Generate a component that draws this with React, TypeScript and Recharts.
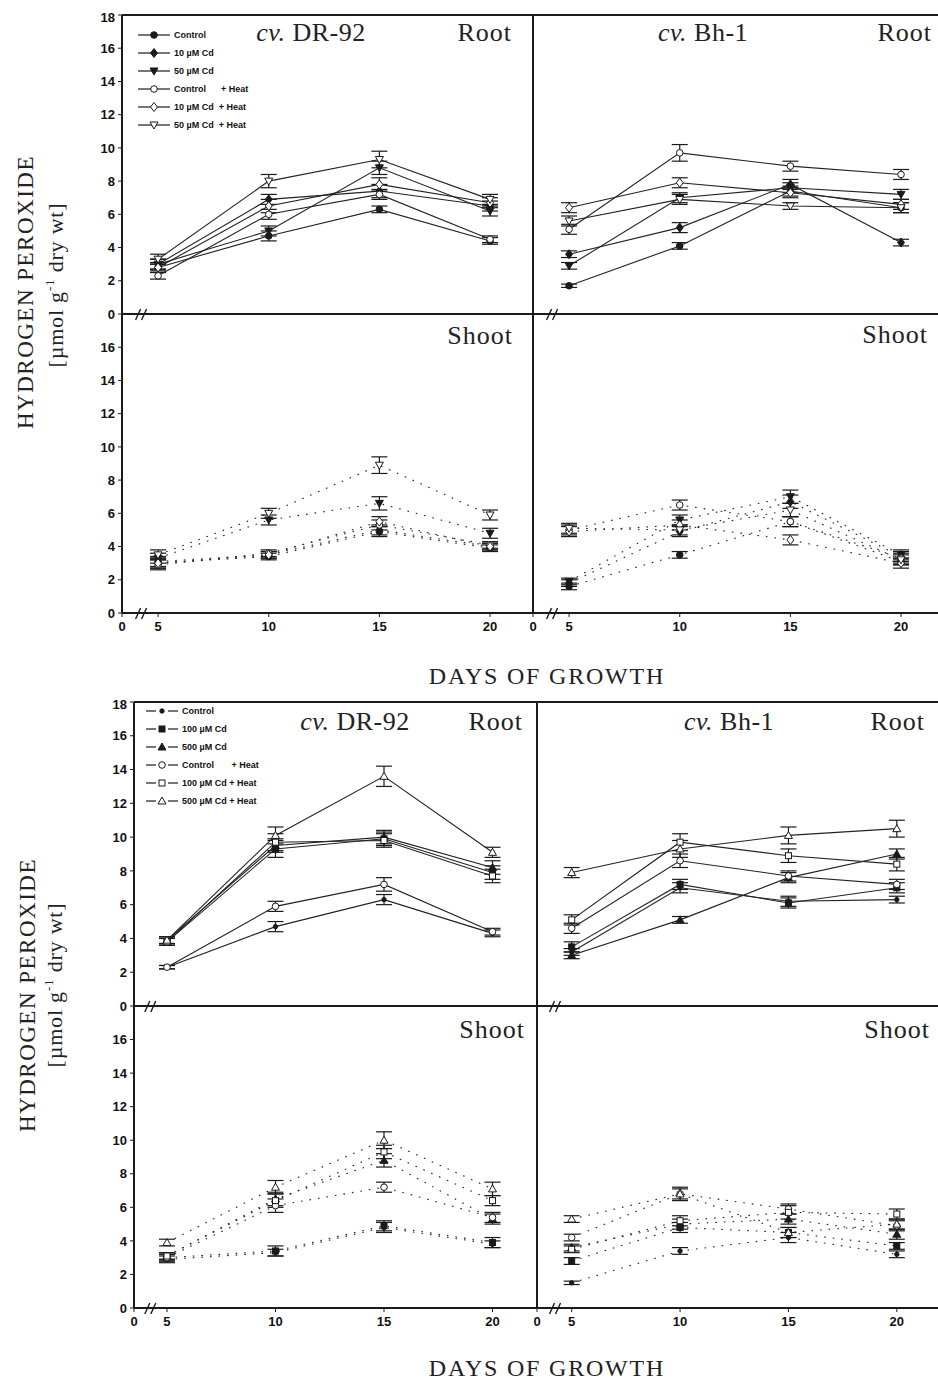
import React from 'react';
import {
  LineChart,
  Line,
  XAxis,
  YAxis,
  ErrorBar,
  ReferenceLine,
  ReferenceDot,
  Legend,
} from 'recharts';

// ---- data ----
const days = [5, 10, 15, 20];
const rootTicks = [0, 2, 4, 6, 8, 10, 12, 14, 16, 18];
const shootTicks = [0, 2, 4, 6, 8, 10, 12, 14, 16];

const topNames = ['Control', '10 µM Cd', '50 µM Cd', 'Control      + Heat', '10 µM Cd  + Heat', '50 µM Cd  + Heat'];
const bottomNames = ['Control', '100 µM Cd', '500 µM Cd', 'Control       + Heat', '100 µM Cd + Heat', '500 µM Cd + Heat'];

const topShapes = ['circle', 'diamond', 'triDown', 'circle', 'diamond', 'triDown'];
const bottomShapes = ['dotSmall', 'square', 'triUp', 'circle', 'square', 'triUp'];
const filled = [true, true, true, false, false, false];

// experiment 1 (10 / 50 µM Cd)
const dr1Root = [
  [2.8, 4.7, 6.3, 4.4],
  [3.0, 6.9, 7.4, 6.5],
  [3.0, 5.0, 8.8, 6.2],
  [2.3, 6.0, 7.2, 4.5],
  [2.8, 6.5, 7.8, 6.7],
  [3.3, 8.0, 9.3, 6.9],
];
const dr1RootErr = [
  [0.2, 0.3, 0.2, 0.2],
  [0.3, 0.3, 0.4, 0.3],
  [0.3, 0.3, 0.4, 0.3],
  [0.2, 0.3, 0.3, 0.2],
  [0.3, 0.4, 0.4, 0.3],
  [0.3, 0.4, 0.5, 0.3],
];
const bh1Root = [
  [1.7, 4.1, 7.4, 6.4],
  [3.6, 5.2, 7.8, 4.3],
  [2.9, 7.0, 7.6, 7.2],
  [5.1, 9.7, 8.9, 8.4],
  [6.4, 7.9, 7.3, 6.6],
  [5.6, 6.9, 6.5, 6.4],
];
const bh1RootErr = [
  [0.1, 0.2, 0.3, 0.3],
  [0.2, 0.3, 0.3, 0.2],
  [0.2, 0.3, 0.3, 0.3],
  [0.3, 0.5, 0.3, 0.3],
  [0.3, 0.3, 0.3, 0.3],
  [0.3, 0.3, 0.2, 0.3],
];
const dr1Shoot = [
  [3.0, 3.4, 4.9, 3.9],
  [3.1, 3.5, 5.0, 4.0],
  [3.3, 5.6, 6.6, 4.8],
  [2.9, 3.6, 5.3, 4.1],
  [3.0, 3.5, 5.5, 4.0],
  [3.5, 6.0, 8.9, 5.9],
];
const dr1ShootErr = [
  [0.3, 0.2, 0.3, 0.2],
  [0.3, 0.2, 0.3, 0.2],
  [0.3, 0.3, 0.4, 0.3],
  [0.3, 0.2, 0.3, 0.2],
  [0.3, 0.2, 0.3, 0.2],
  [0.3, 0.3, 0.5, 0.3],
];
const bh1Shoot = [
  [1.6, 3.5, 5.5, 3.1],
  [1.8, 4.9, 6.7, 3.4],
  [1.9, 5.6, 7.0, 3.5],
  [5.0, 6.5, 5.5, 3.3],
  [4.9, 5.3, 4.4, 3.0],
  [5.1, 5.0, 6.2, 3.2],
];
const bh1ShootErr = [
  [0.2, 0.2, 0.3, 0.2],
  [0.2, 0.3, 0.4, 0.3],
  [0.2, 0.3, 0.4, 0.3],
  [0.3, 0.3, 0.3, 0.3],
  [0.3, 0.3, 0.3, 0.3],
  [0.3, 0.3, 0.4, 0.3],
];

// experiment 2 (100 / 500 µM Cd)
const dr2Root = [
  [2.3, 4.7, 6.3, 4.3],
  [3.8, 9.3, 9.9, 7.9],
  [3.9, 9.5, 10.0, 8.2],
  [2.3, 5.9, 7.2, 4.4],
  [3.8, 9.7, 9.8, 7.7],
  [3.9, 10.1, 13.6, 9.1],
];
const dr2RootErr = [
  [0.1, 0.3, 0.3, 0.2],
  [0.2, 0.5, 0.4, 0.4],
  [0.2, 0.4, 0.4, 0.4],
  [0.1, 0.3, 0.4, 0.2],
  [0.2, 0.5, 0.4, 0.4],
  [0.2, 0.5, 0.6, 0.3],
];
const bh2Root = [
  [3.2, 7.0, 6.2, 6.3],
  [3.5, 7.2, 6.1, 7.0],
  [3.0, 5.1, 7.6, 9.0],
  [4.6, 8.6, 7.7, 7.2],
  [5.1, 9.7, 8.9, 8.4],
  [7.9, 9.3, 10.1, 10.5],
];
const bh2RootErr = [
  [0.2, 0.3, 0.3, 0.2],
  [0.3, 0.3, 0.3, 0.3],
  [0.2, 0.2, 0.3, 0.3],
  [0.3, 0.4, 0.3, 0.3],
  [0.3, 0.5, 0.4, 0.4],
  [0.3, 0.5, 0.5, 0.5],
];
const dr2Shoot = [
  [2.9, 3.3, 4.8, 3.8],
  [3.0, 3.4, 4.9, 3.9],
  [3.1, 6.5, 8.8, 5.3],
  [3.0, 6.1, 7.2, 5.4],
  [3.1, 6.4, 9.3, 6.4],
  [3.9, 7.2, 10.0, 7.1],
];
const dr2ShootErr = [
  [0.2, 0.2, 0.3, 0.2],
  [0.2, 0.3, 0.3, 0.3],
  [0.2, 0.4, 0.4, 0.3],
  [0.2, 0.4, 0.3, 0.3],
  [0.2, 0.4, 0.4, 0.3],
  [0.2, 0.4, 0.5, 0.4],
];
const bh2Shoot = [
  [1.5, 3.4, 4.2, 3.2],
  [2.8, 4.8, 4.5, 3.7],
  [3.6, 5.0, 5.3, 4.4],
  [4.2, 6.8, 5.9, 4.9],
  [3.5, 5.2, 5.7, 5.6],
  [5.3, 6.8, 4.5, 5.0],
];
const bh2ShootErr = [
  [0.1, 0.2, 0.3, 0.2],
  [0.2, 0.3, 0.3, 0.2],
  [0.2, 0.3, 0.3, 0.3],
  [0.2, 0.4, 0.3, 0.3],
  [0.2, 0.3, 0.4, 0.3],
  [0.2, 0.3, 0.3, 0.3],
];

const ink = '#1a1a1a';
const serif = '"Liberation Serif", "DejaVu Serif", serif';
const sans = '"Liberation Sans", Arial, sans-serif';
const tickStyle = { fill: '#111', fontSize: 13, fontWeight: 700, fontFamily: sans };

function buildRows(values: number[][], errs: number[][]) {
  return days.map((d, j) => {
    const row: Record<string, number> = { day: d };
    values.forEach((s, i) => {
      row['s' + i] = s[j];
      row['e' + i] = errs[i][j];
    });
    return row;
  });
}

function Marker({ cx, cy, shape, fill }: { cx: number; cy: number; shape: string; fill: boolean }) {
  const f = fill ? ink : '#fff';
  const common = { fill: f, stroke: ink, strokeWidth: 1 };
  switch (shape) {
    case 'diamond':
      return <polygon points={`${cx},${cy - 4.5} ${cx + 3.5},${cy} ${cx},${cy + 4.5} ${cx - 3.5},${cy}`} {...common} />;
    case 'triDown':
      return <polygon points={`${cx - 4},${cy - 3} ${cx + 4},${cy - 3} ${cx},${cy + 4}`} {...common} />;
    case 'triUp':
      return <polygon points={`${cx - 4},${cy + 3} ${cx + 4},${cy + 3} ${cx},${cy - 4}`} {...common} />;
    case 'square':
      return <rect x={cx - 3} y={cy - 3} width={6} height={6} {...common} />;
    case 'dotSmall':
      return <circle cx={cx} cy={cy} r={2.2} {...common} />;
    default:
      return <circle cx={cx} cy={cy} r={3.3} {...common} />;
  }
}

function makeDot(shape: string, fill: boolean) {
  return (props: any) => {
    const { cx, cy, index } = props;
    if (cx == null || cy == null) return <g key={index} />;
    return (
      <g key={index}>
        <Marker cx={cx} cy={cy} shape={shape} fill={fill} />
      </g>
    );
  };
}

function BreakMark(props: any) {
  const { cx, cy } = props;
  return (
    <g>
      <line x1={cx - 7} y1={cy + 6} x2={cx - 2} y2={cy - 5} stroke={ink} strokeWidth={1.4} />
      <line x1={cx - 1} y1={cy + 6} x2={cx + 4} y2={cy - 5} stroke={ink} strokeWidth={1.4} />
    </g>
  );
}

function legendContent(names: string[], shapes: string[], dashed: boolean) {
  return () => (
    <div style={{ fontFamily: sans, fontSize: 9, fontWeight: 700, color: '#111' }}>
      {names.map((n, i) => (
        <div key={n} style={{ display: 'flex', alignItems: 'center', height: 18, whiteSpace: 'pre' }}>
          <svg width={34} height={12} style={{ marginRight: 3 }}>
            {dashed ? (
              <>
                <line x1={1} y1={6} x2={11} y2={6} stroke={ink} strokeWidth={1.2} />
                <line x1={23} y1={6} x2={33} y2={6} stroke={ink} strokeWidth={1.2} />
              </>
            ) : (
              <line x1={1} y1={6} x2={33} y2={6} stroke={ink} strokeWidth={1.2} />
            )}
            <Marker cx={17} cy={6} shape={shapes[i]} fill={filled[i]} />
          </svg>
          <span>{n}</span>
        </div>
      ))}
    </div>
  );
}

interface PanelProps {
  px: number;
  py: number;
  pw: number;
  ph: number;
  xMin: number;
  xMax: number;
  values: number[][];
  errs: number[][];
  names: string[];
  shapes: string[];
  dotted?: boolean;
  root?: boolean;
  left?: boolean;
  legend?: { left: number; top: number; dashed: boolean };
}

function Panel({ px, py, pw, ph, xMin, xMax, values, errs, names, shapes, dotted, root, left, legend }: PanelProps) {
  const yw = left ? 46 : 8;
  const xh = root ? 0 : 30;
  const padT = 6;
  const padB = root ? 8 : 0;
  const padR = left ? 3 : 0;
  const rows = buildRows(values, errs);
  return (
    <div style={{ position: 'absolute', left: px - yw, top: py - padT }}>
      <LineChart
        width={yw + pw + padR}
        height={padT + ph + xh + padB}
        data={rows}
        margin={{ top: padT, right: padR, left: left ? 0 : yw, bottom: padB }}
      >
        <XAxis
          type="number"
          dataKey="day"
          domain={[xMin, xMax]}
          ticks={[xMin, ...days]}
          tickFormatter={(v: number) => (v < 5 ? '0' : String(v))}
          allowDataOverflow
          hide={root}
          height={xh}
          tick={tickStyle}
          tickSize={4}
          tickMargin={5}
          axisLine={{ stroke: ink, strokeWidth: 2 }}
          tickLine={{ stroke: ink }}
        />
        <YAxis
          type="number"
          domain={[0, 18]}
          ticks={root ? rootTicks : shootTicks}
          allowDataOverflow
          hide={!left}
          width={yw}
          tick={tickStyle}
          tickSize={4}
          tickMargin={3}
          axisLine={{ stroke: ink, strokeWidth: 2 }}
          tickLine={{ stroke: ink }}
        />
        {root && <ReferenceLine y={0} stroke={ink} strokeWidth={2} />}
        {root && <ReferenceLine y={18} stroke={ink} strokeWidth={2} />}
        {left && <ReferenceLine x={xMax} stroke={ink} strokeWidth={2} />}
        <ReferenceDot x={4.3} y={0} r={0} shape={BreakMark} ifOverflow="visible" />
        {legend && (
          <Legend
            layout="vertical"
            align="center"
            verticalAlign="middle"
            content={legendContent(names, shapes, legend.dashed)}
            wrapperStyle={{ left: legend.left, top: legend.top, width: 160 }}
          />
        )}
        {values.map((_, i) => (
          <Line
            key={i}
            type="linear"
            dataKey={'s' + i}
            name={names[i]}
            stroke="#222"
            strokeWidth={1.1}
            strokeDasharray={dotted ? '1.6 7' : undefined}
            dot={makeDot(shapes[i], filled[i])}
            activeDot={false}
            isAnimationActive={false}
          >
            <ErrorBar dataKey={'e' + i} width={8} stroke={ink} strokeWidth={1.2} direction="y" />
          </Line>
        ))}
      </LineChart>
    </div>
  );
}

function Txt({ x, y, size, right, children, spacing }: { x: number; y: number; size: number; right?: boolean; spacing?: number; children: React.ReactNode }) {
  return (
    <div
      style={{
        position: 'absolute',
        left: x,
        top: y,
        transform: right ? 'translate(-100%, -50%)' : 'translate(-50%, -50%)',
        fontFamily: serif,
        fontSize: size,
        letterSpacing: spacing ?? 0,
        color: '#222',
        whiteSpace: 'nowrap',
        lineHeight: 1,
      }}
    >
      {children}
    </div>
  );
}

function VTxt({ x, y, size, spacing, children }: { x: number; y: number; size: number; spacing?: number; children: React.ReactNode }) {
  return (
    <div
      style={{
        position: 'absolute',
        left: x,
        top: y,
        transform: 'translate(-50%, -50%) rotate(-90deg)',
        fontFamily: serif,
        fontSize: size,
        letterSpacing: spacing ?? 0,
        color: '#222',
        whiteSpace: 'nowrap',
        lineHeight: 1,
      }}
    >
      {children}
    </div>
  );
}

const Cv = ({ name }: { name: string }) => (
  <span>
    <i>cv.</i> {name}
  </span>
);

export default function App() {
  return (
    <div style={{ position: 'absolute', left: 0, top: 0, width: 938, height: 1380, overflow: 'hidden', background: '#fff' }}>
      {/* ---- experiment 1 ---- */}
      <Panel px={122} py={15} pw={411} ph={299} xMin={3.37} xMax={21.94} values={dr1Root} errs={dr1RootErr}
        names={topNames} shapes={topShapes} root left legend={{ left: 61, top: 17, dashed: false }} />
      <Panel px={122} py={314} pw={411} ph={299} xMin={3.37} xMax={21.94} values={dr1Shoot} errs={dr1ShootErr}
        names={topNames} shapes={topShapes} dotted left />
      <Panel px={533} py={15} pw={405} ph={299} xMin={3.37} xMax={21.67} values={bh1Root} errs={bh1RootErr}
        names={topNames} shapes={topShapes} root />
      <Panel px={533} py={314} pw={405} ph={299} xMin={3.37} xMax={21.67} values={bh1Shoot} errs={bh1ShootErr}
        names={topNames} shapes={topShapes} dotted />

      <Txt x={311} y={33} size={26} spacing={0.5}><Cv name="DR-92" /></Txt>
      <Txt x={512} y={33} size={26} right spacing={1}>Root</Txt>
      <Txt x={703} y={33} size={26} spacing={0.5}><Cv name="Bh-1" /></Txt>
      <Txt x={932} y={33} size={26} right spacing={1}>Root</Txt>
      <Txt x={513} y={336} size={26} right spacing={1}>Shoot</Txt>
      <Txt x={928} y={335} size={26} right spacing={1}>Shoot</Txt>
      <VTxt x={25} y={292} size={23} spacing={1.5}>HYDROGEN PEROXIDE</VTxt>
      <VTxt x={55} y={285} size={22} spacing={0.8}>
        [µmol g<sup style={{ fontSize: 13 }}>-1</sup> dry wt]
      </VTxt>
      <Txt x={547} y={676} size={24} spacing={1.8}>DAYS OF GROWTH</Txt>

      {/* ---- experiment 2 ---- */}
      <Panel px={134} py={702} pw={403} ph={304} xMin={3.48} xMax={22.05} values={dr2Root} errs={dr2RootErr}
        names={bottomNames} shapes={bottomShapes} root left legend={{ left: 57, top: 6, dashed: true }} />
      <Panel px={134} py={1006} pw={403} ph={302} xMin={3.48} xMax={22.05} values={dr2Shoot} errs={dr2ShootErr}
        names={bottomNames} shapes={bottomShapes} dotted left />
      <Panel px={537} py={702} pw={401} ph={304} xMin={3.4} xMax={21.9} values={bh2Root} errs={bh2RootErr}
        names={bottomNames} shapes={bottomShapes} root />
      <Panel px={537} py={1006} pw={401} ph={302} xMin={3.4} xMax={21.9} values={bh2Shoot} errs={bh2ShootErr}
        names={bottomNames} shapes={bottomShapes} dotted />

      <Txt x={355} y={722} size={26} spacing={0.5}><Cv name="DR-92" /></Txt>
      <Txt x={523} y={722} size={26} right spacing={1}>Root</Txt>
      <Txt x={729} y={722} size={26} spacing={0.5}><Cv name="Bh-1" /></Txt>
      <Txt x={925} y={722} size={26} right spacing={1}>Root</Txt>
      <Txt x={525} y={1030} size={26} right spacing={1}>Shoot</Txt>
      <Txt x={930} y={1030} size={26} right spacing={1}>Shoot</Txt>
      <VTxt x={27} y={995} size={23} spacing={1.5}>HYDROGEN PEROXIDE</VTxt>
      <VTxt x={54} y={985} size={22} spacing={0.8}>
        [µmol g<sup style={{ fontSize: 13 }}>-1</sup> dry wt]
      </VTxt>
      <Txt x={547} y={1368} size={24} spacing={1.8}>DAYS OF GROWTH</Txt>
    </div>
  );
}
